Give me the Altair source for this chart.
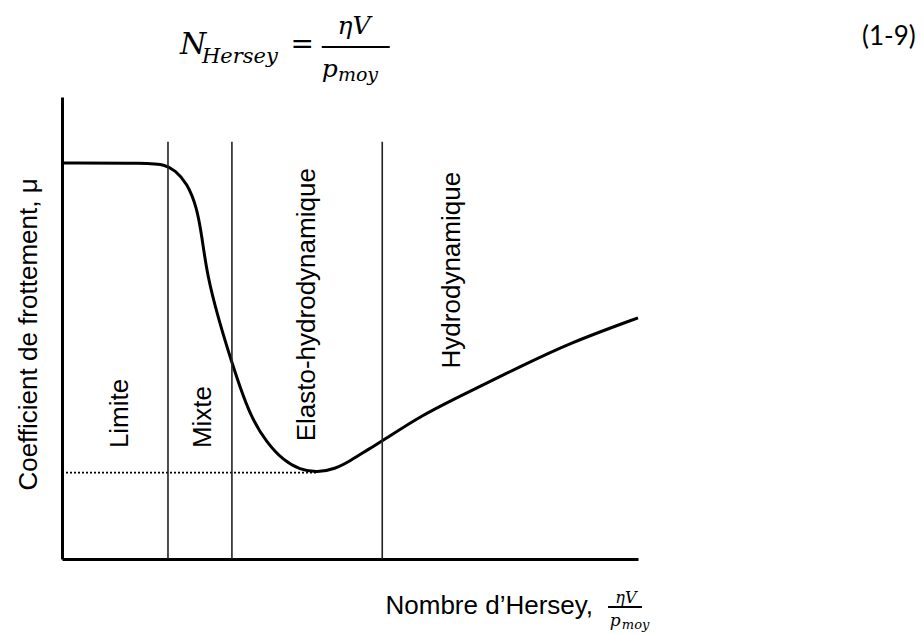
import altair as alt
import pandas as pd

# ---- Stribeck curve (Hersey number vs friction coefficient), arbitrary units ----
hersey = [0, 15.3, 17.9, 19.6, 21.7, 23.4, 24.3, 25.2, 27.1, 29.7, 32.6, 35.6, 38.4,
          41.3, 44.3, 47.4, 50.0, 53.5, 55.6, 62.2, 70.8, 79.5, 88.2, 100]
mu = [85.7, 85.7, 85.3, 84.2, 81.4, 76.2, 69.7, 61.5, 52.2, 41.6, 31.0, 25.1, 21.4,
      19.3, 18.7, 19.5, 21.2, 24.0, 25.5, 31.0, 36.3, 41.6, 46.8, 52.2]

# regime boundaries
boundaries = [18.4, 29.5, 55.6]
boundary_top = 90.3

# minimum friction (dotted reference)
x_min = 44.3
mu_min = 18.7

# regime labels
low_labels = ["Limite", "Mixte"]
low_x = [10.1, 24.5]
low_y = [24.0, 24.0]
high_labels = ["Elasto-hydrodynamique", "Hydrodynamique"]
high_x = [42.5, 67.7]
high_y = [84.6, 83.8]

# formula annotation anchors (data units)
it_left_text = ["N", "Hersey", "p", "moy", "p", "moy"]
it_left_x = [20.5, 24.3, 45.1, 47.9, 95.1, 97.2]
it_left_y = [109.3, 107.4, 104.3, 103.5, -14.5, -15.2]
it_left_size = [30, 21, 25, 19, 17, 13]

it_center_text = ["ηV", "ηV"]
it_center_x = [50.7, 97.9]
it_center_y = [113.6, -9.5]
it_center_size = [25, 16]

bar_x1 = [45.1, 94.8]
bar_x2 = [56.9, 100.7]
bar_y = [110.8, -10.4]

eq_text = ["="]
eq_x = [41.7]
eq_y = [111.3]

num_text = ["(1-9)"]
num_x = [138.9]
num_y = [113.0]

W, H = 576, 462
xs = alt.Scale(domain=[0, 100], nice=False, zero=False)
ys = alt.Scale(domain=[0, 100], nice=False, zero=False)

curve_df = pd.DataFrame({"x": hersey, "y": mu})
bound_df = pd.DataFrame({"x": boundaries, "y0": [0] * 3, "y1": [boundary_top] * 3})
dot_df = pd.DataFrame({"x": [0, x_min], "y": [mu_min, mu_min]})

x_axis = alt.Axis(domain=True, domainColor="black", domainWidth=3, ticks=False,
                  labels=False, grid=False, title="Nombre d’Hersey,",
                  titleFont="Liberation Sans", titleFontSize=26, titleFontWeight="normal",
                  titleColor="black", titleX=323, titleY=54, titleAlign="left",
                  titleBaseline="alphabetic")
y_axis = alt.Axis(domain=True, domainColor="black", domainWidth=3, ticks=False,
                  labels=False, grid=False, title="Coefficient de frottement, μ",
                  titleFont="Liberation Sans", titleFontSize=26, titleFontWeight="normal",
                  titleColor="black", titleX=-34, titleY=237, titleAngle=270,
                  titleAlign="center", titleBaseline="middle")

curve = alt.Chart(curve_df).mark_line(color="black", strokeWidth=3, interpolate="basis").encode(
    x=alt.X("x:Q", scale=xs, axis=x_axis),
    y=alt.Y("y:Q", scale=ys, axis=y_axis),
)

dotted = alt.Chart(dot_df).mark_line(color="black", strokeWidth=1.8, strokeDash=[2, 2]).encode(
    x=alt.X("x:Q", scale=xs), y=alt.Y("y:Q", scale=ys))

rules = alt.Chart(bound_df).mark_rule(color="#222", strokeWidth=1.6).encode(
    x=alt.X("x:Q", scale=xs), y=alt.Y("y0:Q", scale=ys), y2="y1:Q")

lab_low = alt.Chart(pd.DataFrame({"t": low_labels, "x": low_x, "y": low_y})).mark_text(
    angle=270, align="left", baseline="middle", font="Liberation Sans", fontSize=26, color="black"
).encode(x=alt.X("x:Q", scale=xs), y=alt.Y("y:Q", scale=ys), text="t:N")

lab_high = alt.Chart(pd.DataFrame({"t": high_labels, "x": high_x, "y": high_y})).mark_text(
    angle=270, align="right", baseline="middle", font="Liberation Sans", fontSize=26, color="black"
).encode(x=alt.X("x:Q", scale=xs), y=alt.Y("y:Q", scale=ys), text="t:N")

f_left = alt.Chart(pd.DataFrame({"t": it_left_text, "x": it_left_x, "y": it_left_y, "s": it_left_size})).mark_text(
    align="left", baseline="alphabetic", font="DejaVu Serif", fontStyle="italic", color="black"
).encode(x=alt.X("x:Q", scale=xs), y=alt.Y("y:Q", scale=ys), text="t:N",
         size=alt.Size("s:Q", scale=None, legend=None))

f_center = alt.Chart(pd.DataFrame({"t": it_center_text, "x": it_center_x, "y": it_center_y, "s": it_center_size})).mark_text(
    align="center", baseline="alphabetic", font="DejaVu Serif", fontStyle="italic", color="black"
).encode(x=alt.X("x:Q", scale=xs), y=alt.Y("y:Q", scale=ys), text="t:N",
         size=alt.Size("s:Q", scale=None, legend=None))

f_bars = alt.Chart(pd.DataFrame({"x1": bar_x1, "x2": bar_x2, "y": bar_y})).mark_rule(
    color="black", strokeWidth=2).encode(x=alt.X("x1:Q", scale=xs), x2="x2:Q", y=alt.Y("y:Q", scale=ys))

f_eq = alt.Chart(pd.DataFrame({"t": eq_text, "x": eq_x, "y": eq_y})).mark_text(
    align="center", baseline="middle", font="DejaVu Serif", fontSize=28, color="black"
).encode(x=alt.X("x:Q", scale=xs), y=alt.Y("y:Q", scale=ys), text="t:N")

f_num = alt.Chart(pd.DataFrame({"t": num_text, "x": num_x, "y": num_y})).mark_text(
    align="left", baseline="middle", font="Lato", fontSize=26, color="black"
).encode(x=alt.X("x:Q", scale=xs), y=alt.Y("y:Q", scale=ys), text="t:N")

chart = alt.layer(curve, dotted, rules, lab_low, lab_high, f_left, f_center, f_bars, f_eq, f_num).properties(
    width=W, height=H,
    background="white",
    autosize=alt.AutoSizeParams(type="none"),
    padding={"left": 54, "top": 89, "right": 278, "bottom": 80},
).configure_view(strokeWidth=0)

chart.save("out.html", embed_options={"renderer": "svg", "actions": False})
